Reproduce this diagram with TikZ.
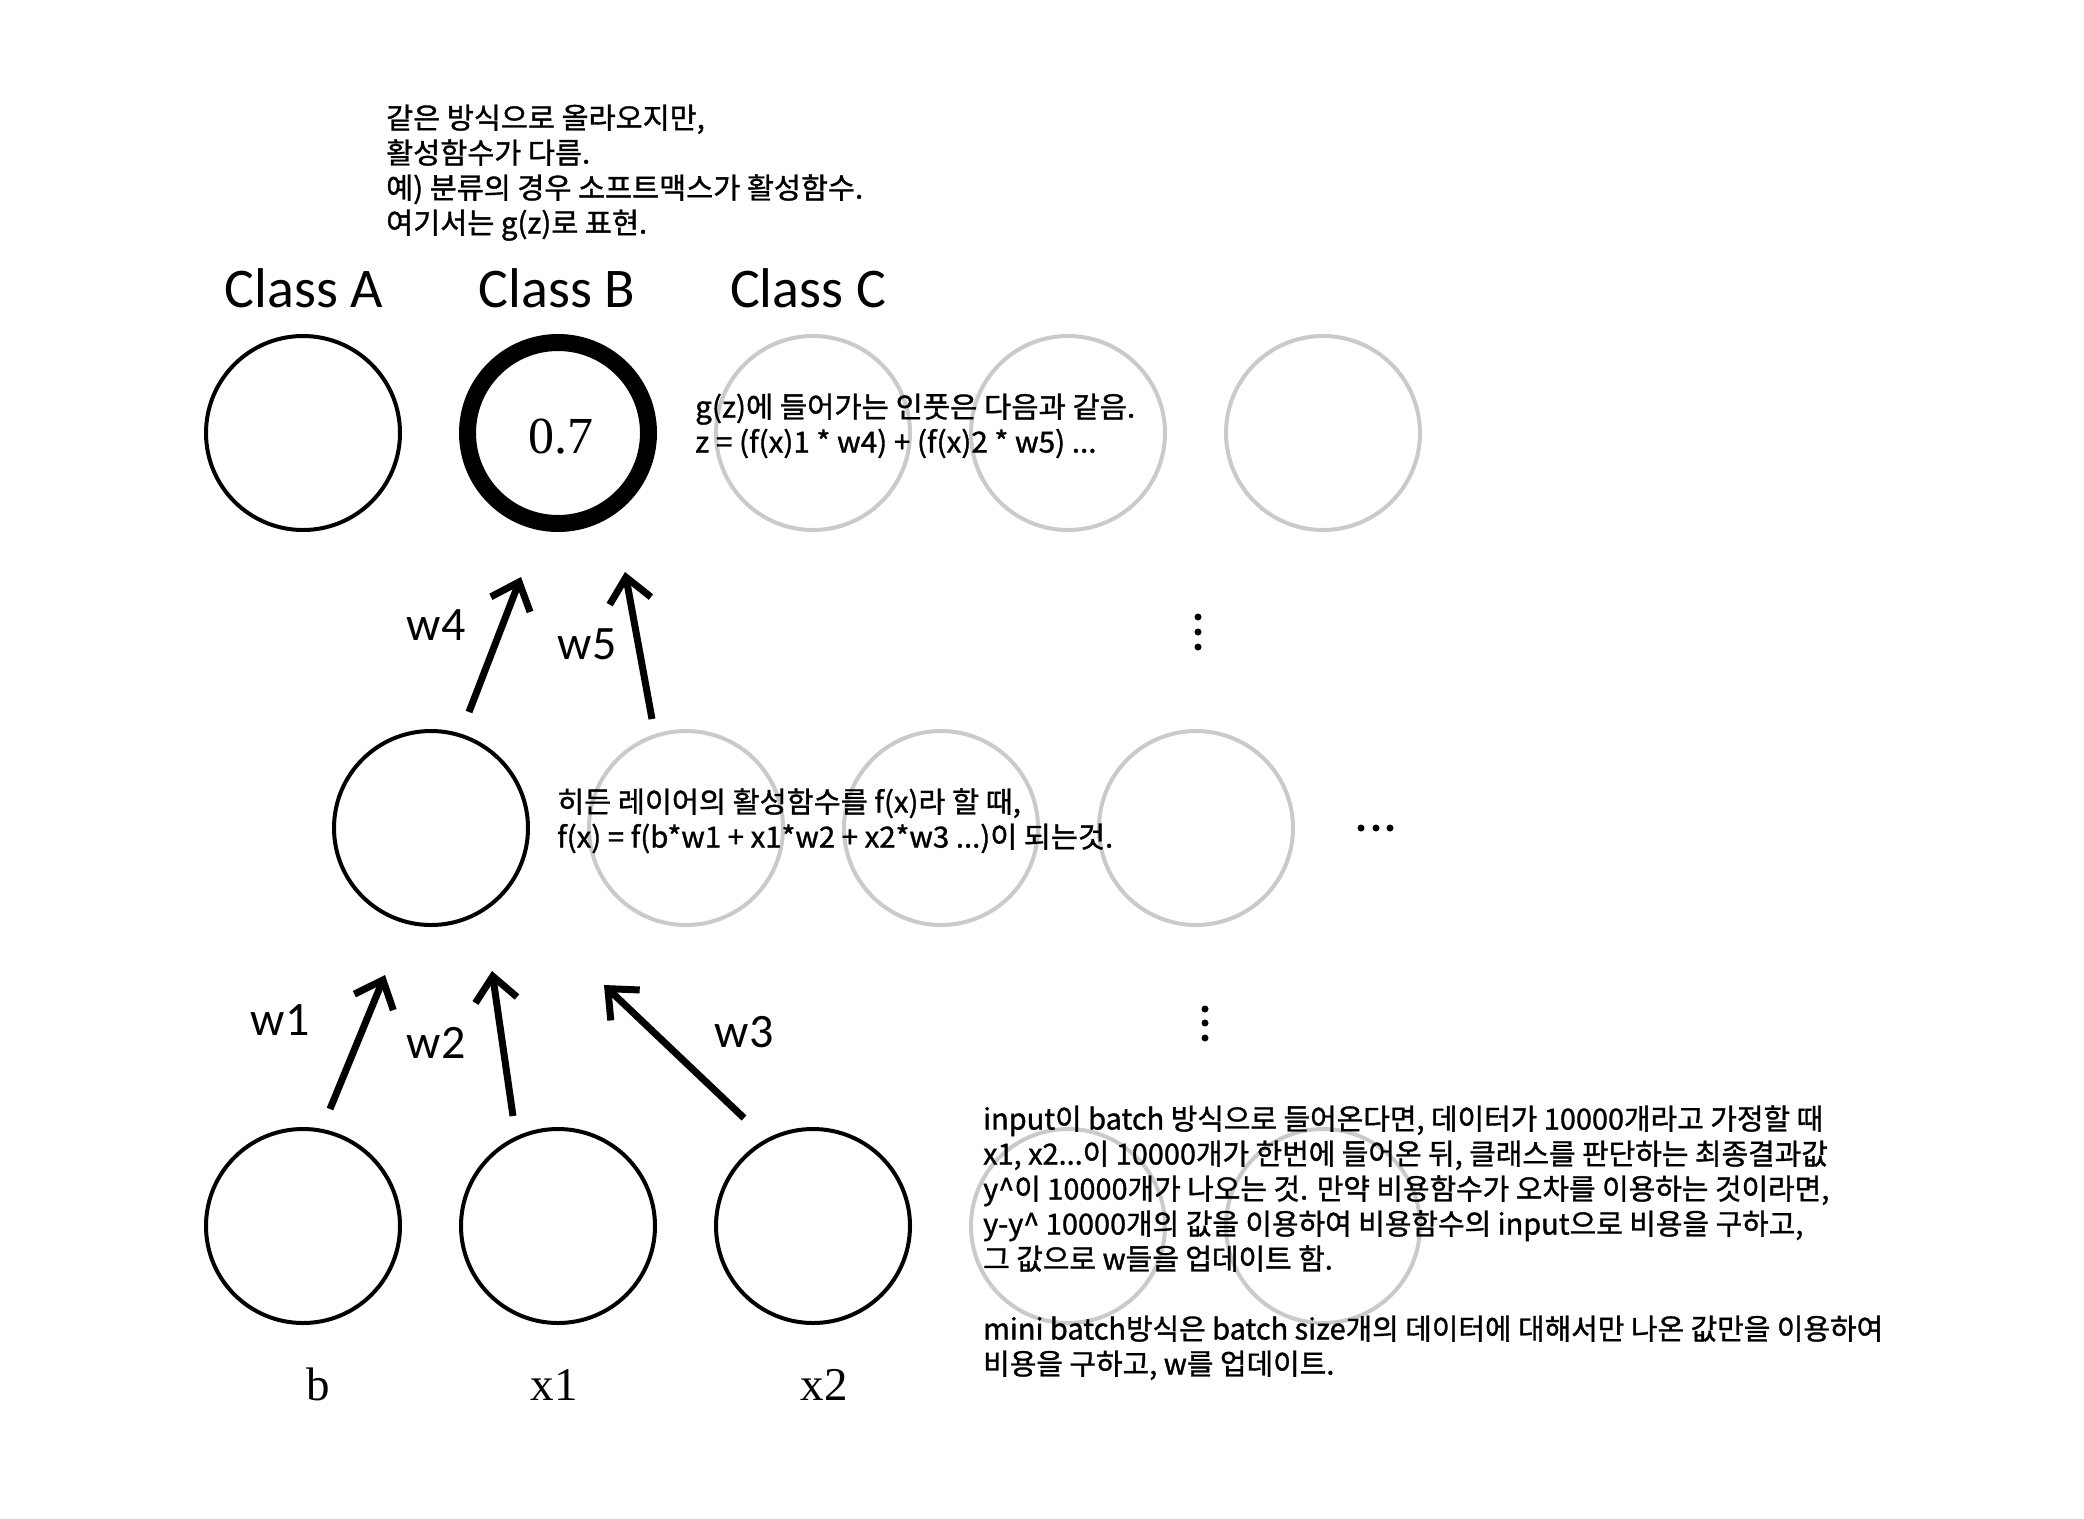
\documentclass[tikz,border=0pt]{standalone}
\usepackage{fontspec}
\usepackage{graphicx}
\newfontfamily\krfont[FakeBold=1.2]{Noto Sans CJK KR}
\newfontfamily\labfont{Carlito}
\newfontfamily\serfont{Liberation Serif}
\usetikzlibrary{arrows.meta}
\definecolor{lgray}{HTML}{CACACA}
\newcommand\mytextblock[2]{\resizebox{#1}{\height}{\krfont\fontsize{29pt}{35pt}\selectfont\begin{tabular}{@{}l@{}}#2\end{tabular}}}
\tikzset{
  blackc/.style={circle, draw=black, line width=4pt, minimum size=194pt, inner sep=0pt},
  thickc/.style={circle, draw=black, line width=17pt, minimum size=181pt, inner sep=0pt},
  grayc/.style={circle, draw=lgray, line width=4pt, minimum size=194pt, inner sep=0pt},
  classlab/.style={anchor=base, inner sep=0pt, font=\labfont\fontsize{56pt}{60pt}\selectfont},
  wlab/.style={anchor=base, inner sep=0pt, font=\labfont\fontsize{48pt}{52pt}\selectfont},
  inlab/.style={anchor=base, inner sep=0pt, font=\serfont\fontsize{47pt}{52pt}\selectfont},
  note/.style={anchor=west, inner sep=0pt},
  arr/.style={line width=7pt, -{Straight Barb[length=24pt,width=42pt]}},
  dot/.style={fill=black},
}
\begin{document}
\begin{tikzpicture}[x=1pt,y=-1pt]
\fill[white] (0,0) rectangle (2084,1518);
\useasboundingbox (0,0) rectangle (2084,1518);

% top note
\node[note] (topnote) at (386,174) {\mytextblock{477pt}{같은 방식으로 올라오지만,\\활성함수가 다름.\\예) 분류의 경우 소프트맥스가 활성함수.\\여기서는 g(z)로 표현.}};

% class labels
\node[classlab] (ca) at (304,307) {Class A};
\node[classlab] (cb) at (557,307) {Class B};
\node[classlab] (cc) at (808,307) {Class C};

% output row
\node[blackc] (oA) at (303,433) {};
\node[thickc] (oB) at (558,433) {};
\node[anchor=base, inner sep=0pt, font=\serfont\fontsize{52pt}{56pt}\selectfont] (val) at (561,453) {0.7};
\node[grayc] (oC) at (813,433) {};
\node[grayc] (oD) at (1068,433) {};
\node[grayc] (oE) at (1323,433) {};

% hidden row
\node[blackc] (hA) at (431,828) {};
\node[grayc] (hB) at (686,828) {};
\node[grayc] (hC) at (941,828) {};
\node[grayc] (hD) at (1196,828) {};

% input row
\node[blackc] (iA) at (303,1226) {};
\node[blackc] (iB) at (558,1226) {};
\node[blackc] (iC) at (813,1226) {};
\node[grayc] (iD) at (1068,1226) {};
\node[grayc] (iE) at (1323,1226) {};

% notes
\node[note] (gnote) at (695,428) {\mytextblock{440pt}{g(z)에 들어가는 인풋은 다음과 같음.\\z = (f(x)1 * w4) + (f(x)2 * w5) ...}};
\node[note] (hnote) at (557,823) {\mytextblock{556pt}{히든 레이어의 활성함수를 f(x)라 할 때,\\f(x) = f(b*w1 + x1*w2 + x2*w3 ...)이 되는것.}};
\node[note] (bnote) at (983,1245) {\mytextblock{900pt}{input이 batch 방식으로 들어온다면, 데이터가 10000개라고 가정할 때\\x1, x2...이 10000개가 한번에 들어온 뒤, 클래스를 판단하는 최종결과값\\y\^{}이 10000개가 나오는 것. 만약 비용함수가 오차를 이용하는 것이라면,\\y-y\^{} 10000개의 값을 이용하여 비용함수의 input으로 비용을 구하고,\\그 값으로 w들을 업데이트 함.\\ \\mini batch방식은 batch size개의 데이터에 대해서만 나온 값만을 이용하여\\비용을 구하고, w를 업데이트.}};

% arrow coordinates
\coordinate (t4) at (469,712); \coordinate (e4) at (521,577);
\coordinate (t5) at (652,719); \coordinate (e5) at (625,572);
\coordinate (t1) at (330,1109); \coordinate (e1) at (385,975);
\coordinate (t2) at (513,1116); \coordinate (e2) at (492,971);
\coordinate (t3) at (744,1118); \coordinate (e3) at (604,985);
\draw[arr] (t4) -- (e4);
\draw[arr] (t5) -- (e5);
\draw[arr] (t1) -- (e1);
\draw[arr] (t2) -- (e2);
\draw[arr] (t3) -- (e3);

% weight labels
\node[wlab] (w4) at (436,640) {w4};
\node[wlab] (w5) at (587,659) {w5};
\node[wlab] (w1) at (280,1035) {w1};
\node[wlab] (w2) at (436,1058) {w2};
\node[wlab] (w3) at (744,1047) {w3};

% input labels
\node[inlab] (lb) at (318,1400) {b};
\node[inlab] (lx1) at (554,1400) {x1};
\node[inlab] (lx2) at (824,1400) {x2};

% dots
\foreach \yy in {617,632,647} \fill[dot] (1198,\yy) circle[radius=3.5pt];
\foreach \yy in {1009,1023,1038} \fill[dot] (1205,\yy) circle[radius=3.5pt];
\foreach \xx in {1361,1376,1390} \fill[dot] (\xx,828) circle[radius=3.5pt];
\end{tikzpicture}
\end{document}
